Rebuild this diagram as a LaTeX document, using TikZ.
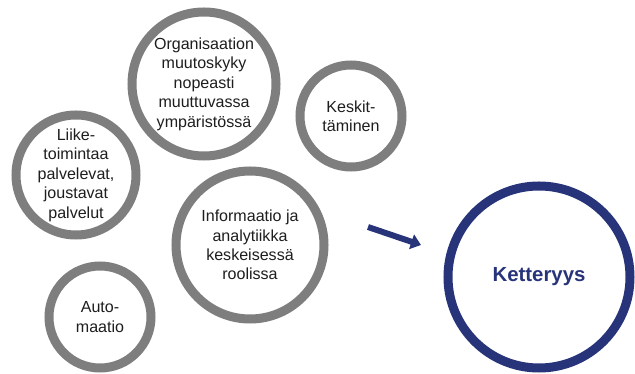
\documentclass[tikz,border=0pt]{standalone}
\usepackage{fontspec}
\setmainfont{Liberation Sans}
\usetikzlibrary{arrows.meta,positioning}
\definecolor{ringgray}{RGB}{126,126,126}
\definecolor{agileblue}{RGB}{39,52,122}
\definecolor{txtgray}{RGB}{30,30,30}

\begin{document}
\begin{tikzpicture}[
    x=0.03cm, y=-0.03cm,
    % Stili base
    factor/.style={circle, draw=ringgray, fill=white, line width=0.27cm, align=center, text=txtgray,
        font=\fontsize{13.7}{16.6}\selectfont, inner sep=0pt},
    goal/.style={circle, draw=agileblue, fill=white, line width=0.27cm, align=center, text=agileblue,
        font=\fontsize{17.4}{20}\selectfont\bfseries, minimum size=5.46cm},
    % Freccia
    leadsto/.style={draw=agileblue, line width=0.18cm, -{Triangle[length=0.3cm,width=0.45cm]}}
]
\useasboundingbox (0,0) rectangle (635,374);

% === CERCHI DEI FATTORI ===
\node[factor, minimum size=4.32cm] (org) at (204,84) {Organisaation\\muutoskyky\\nopeasti\\muuttuvassa\\ympäristössä};
\node[factor, minimum size=3.06cm] (kesk) at (351,116) {Keskit-\\täminen};
\node[factor, minimum size=3.6cm] (liike) at (76,175) {Liike-\\toimintaa\\palvelevat,\\joustavat\\palvelut};
\node[factor, minimum size=4.44cm] (info) at (250,245) {Informaatio ja\\analytiikka\\keskeisessä\\roolissa};
\node[factor, minimum size=3.06cm] (auto) at (100,317) {Auto-\\maatio};

% === TAVOITE ===
\node[goal] (kett) at (539,277) {Ketteryys};

% Freccia
\coordinate (arrtail) at (368,227);
\coordinate (arrtip) at (421,245);
\draw[leadsto] (arrtail) -- (arrtip);

\end{tikzpicture}
\end{document}
